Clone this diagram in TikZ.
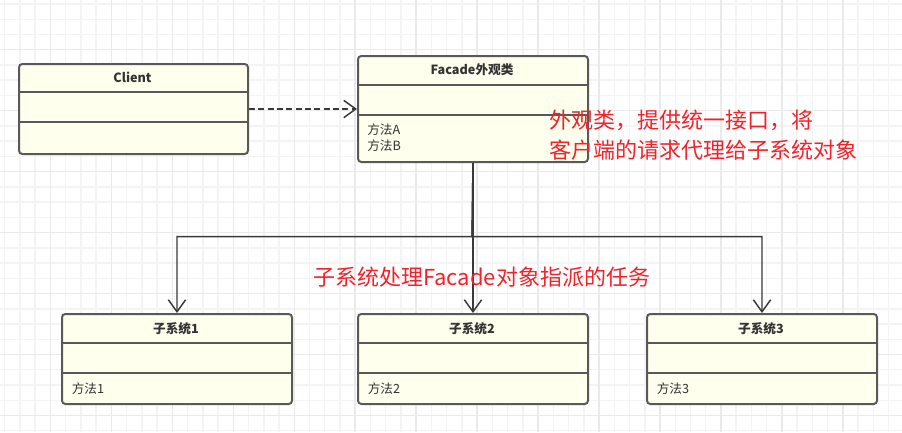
\documentclass[tikz,border=0pt]{standalone}
\usepackage{fontspec}
\setmainfont{Noto Sans CJK SC}
\usetikzlibrary{arrows.meta}
\definecolor{class fill}{HTML}{FFFFEE}
\definecolor{class line}{HTML}{595959}
\definecolor{link gray}{HTML}{3A3A3A}
\definecolor{note red}{HTML}{F2222A}
\definecolor{grid minor}{HTML}{F4F4F4}
\definecolor{grid major}{HTML}{EAEAEA}

\begin{document}
\begin{tikzpicture}[x=0.75pt, y=-0.75pt,
		classbox/.style={draw=class line, fill=class fill, line width=1.5pt,
			rounded corners=2.5pt, anchor=north west, inner sep=0,
			minimum width=172.5pt, minimum height=67.5pt},
		divider/.style={draw=class line, line width=1.5pt},
		classname/.style={text=black!80, font=\fontsize{9.5}{11}\selectfont\bfseries, inner sep=0},
		method/.style={text=black!80, font=\fontsize{9.5}{11}\selectfont, inner sep=0, anchor=west},
		note/.style={text=note red, font=\fontsize{16.5}{20}\selectfont, inner sep=0, anchor=west},
		uses/.style={draw=link gray, line width=1.1pt, dash pattern=on 4.5pt off 2.5pt,
			-{Straight Barb[length=9pt,width=13pt]}},
		calls/.style={draw=link gray, line width=1.1pt,
			-{Straight Barb[length=9pt,width=13pt]}}]
		% background grid
		\fill[white] (0, 0) rectangle (902, 432);
		\useasboundingbox (0, 0) rectangle (902, 432);
		\foreach \i in {0,...,58}
			\draw[grid minor, line width=1.1pt] ({4.7+15.24*\i}, 0) -- ({4.7+15.24*\i}, 432);
		\foreach \i in {0,...,28}
			\draw[grid minor, line width=1.1pt] (0, {4+15.24*\i}) -- (902, {4+15.24*\i});
		\foreach \i in {3,7,...,55}
			\draw[grid major, line width=1.1pt] ({4.7+15.24*\i}, 0) -- ({4.7+15.24*\i}, 432);
		\foreach \i in {3,7,...,27}
			\draw[grid major, line width=1.1pt] (0, {4+15.24*\i}) -- (902, {4+15.24*\i});
		% Client
		\node[classbox, minimum width=171.75pt] (client) at (18, 63) {};
		\draw[divider] (18, 92) -- (247, 92) (18, 122) -- (247, 122);
		\node[classname] (client name) at (132.5, 77.5) {Client};
		% Facade
		\node[classbox, minimum height=79.5pt] (facade) at (357, 55) {};
		\draw[divider] (357, 84.5) -- (587, 84.5) (357, 115) -- (587, 115);
		\node[classname] (facade name) at (472, 70) {Facade外观类};
		\node[method] (method a) at (367, 130) {方法A};
		\node[method] (method b) at (367, 146) {方法B};
		% subsystems
		\node[classbox] (sub1) at (61, 313) {};
		\node[classbox] (sub2) at (357, 313) {};
		\node[classbox] (sub3) at (646, 313) {};
		\foreach \x in {61, 357, 646}
			\draw[divider] (\x, 343) -- (\x+230, 343) (\x, 373.3) -- (\x+230, 373.3);
		\node[classname] (sub1 name) at (176, 328.3) {子系统1};
		\node[classname] (sub2 name) at (472, 328.3) {子系统2};
		\node[classname] (sub3 name) at (761, 328.3) {子系统3};
		\node[method] (method 1) at (71.5, 388.3) {方法1};
		\node[method] (method 2) at (367.5, 388.3) {方法2};
		\node[method] (method 3) at (656.5, 388.3) {方法3};
		% connectors
		\draw[uses] (client.east) -- (client.east -| facade.west);
		\coordinate (bus) at (472, 236.7);
		\draw[calls] (facade.south) -- (bus) -| (sub1.north);
		\draw[calls] (facade.south) -- (bus) -| (sub3.north);
		\draw[calls] (facade.south) -- (sub2.north);
		% notes
		\node[note] (facade note a) at (549, 120) {外观类，提供统一接口，将};
		\node[note] (facade note b) at (549, 150) {客户端的请求代理给子系统对象};
		\node[note] (sub note) at (313, 277) {子系统处理Facade对象指派的任务};
	\end{tikzpicture}
\end{document}
